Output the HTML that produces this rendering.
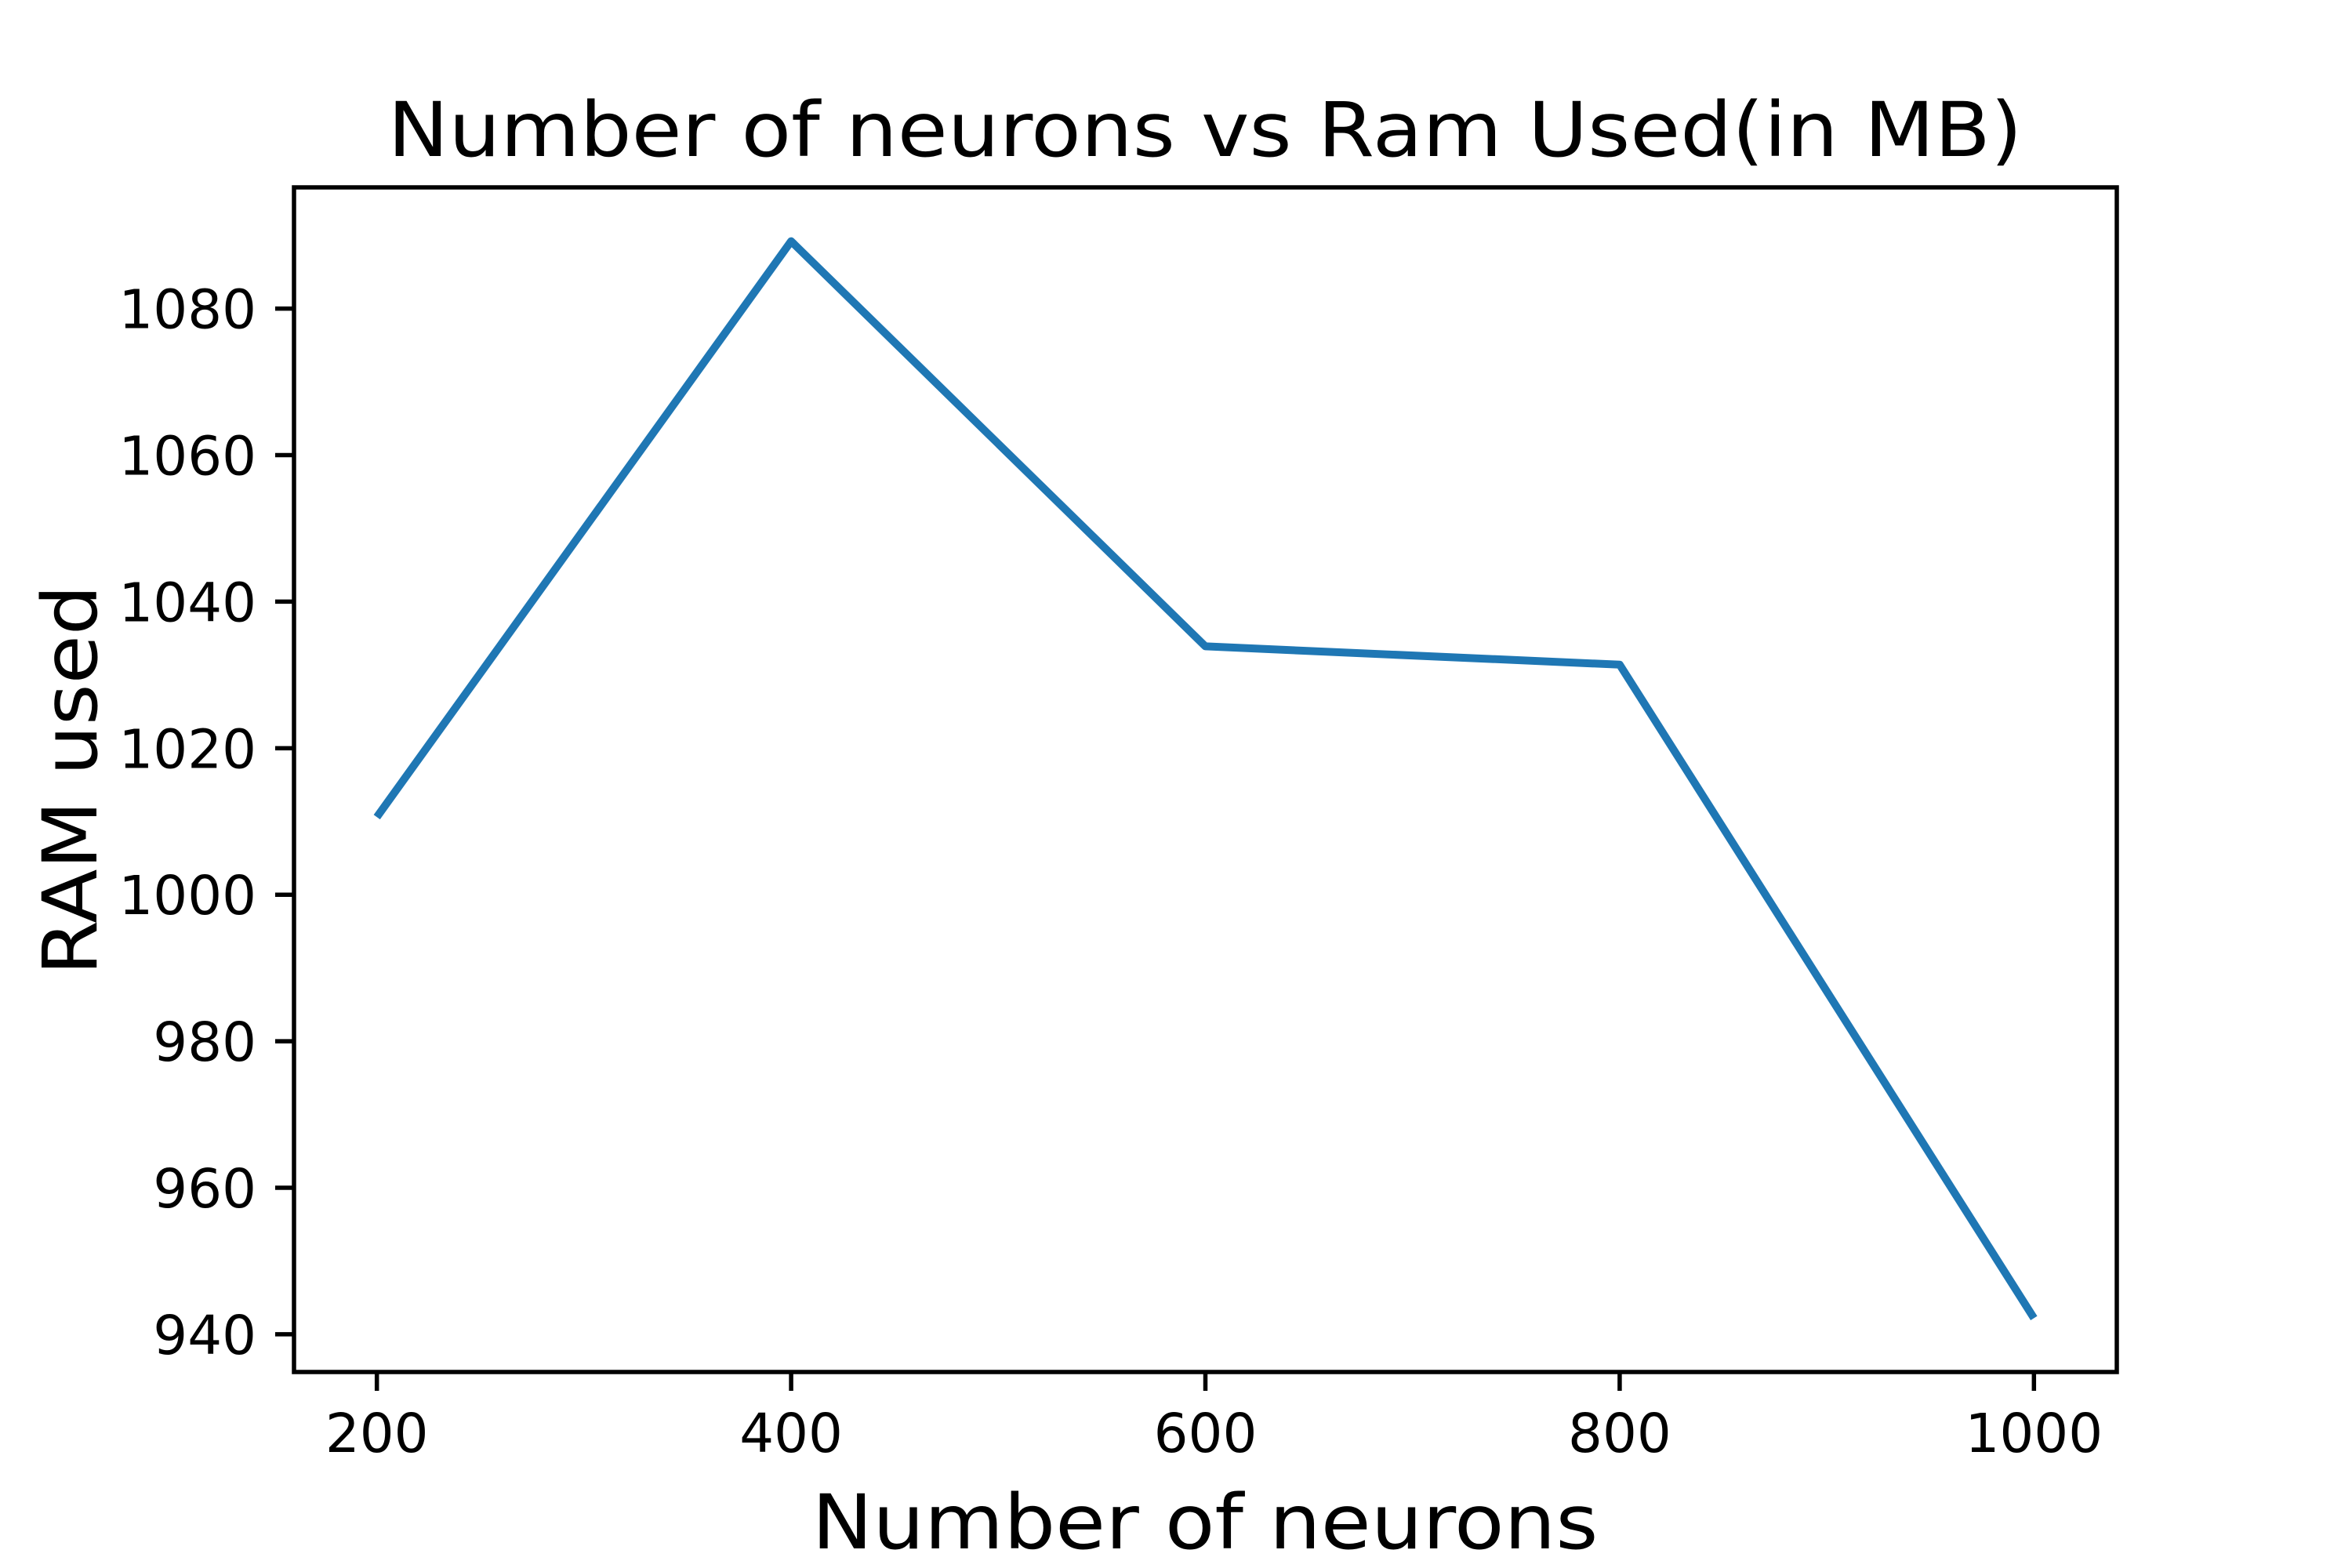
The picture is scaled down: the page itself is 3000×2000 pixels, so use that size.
<!DOCTYPE html>
<html><head><meta charset="utf-8"><style>
html,body{margin:0;padding:0;background:#fff;}
svg{display:block;font-family:"DejaVu Sans","Liberation Sans",sans-serif;}
</style></head><body>
<svg id="chart" width="3000" height="2000" viewBox="0 0 3000 2000">
<rect x="0" y="0" width="3000" height="2000" fill="#fff"/>
<text x="1537" y="199" font-size="96" text-anchor="middle" textLength="2085" lengthAdjust="spacingAndGlyphs">Number of neurons vs Ram Used(in MB)</text>
<text x="1537" y="1975" font-size="96" text-anchor="middle" textLength="1003" lengthAdjust="spacingAndGlyphs">Number of neurons</text>
<text x="0" y="0" font-size="96" text-anchor="middle" transform="translate(123,995) rotate(-90)" textLength="498" lengthAdjust="spacingAndGlyphs">RAM used</text>
<g id="ticks"></g>
<polyline id="series" fill="none" stroke="#1f77b4" stroke-width="10" stroke-linejoin="round" stroke-linecap="butt"/>
<rect x="375" y="239" width="2325" height="1511" fill="none" stroke="#000" stroke-width="5.5"/>
</svg>
<script>
const categories = [200, 400, 600, 800, 1000];
const ramValues = [1010.6, 1089.2, 1033.9, 1031.4, 942.2];
const xTickLabels = [200, 400, 600, 800, 1000];
const yTickLabels = [940, 960, 980, 1000, 1020, 1040, 1060, 1080];

const L = 375, R = 2700, T = 239, B = 1750;
const xMinD = Math.min(...categories), xMaxD = Math.max(...categories);
const xPad = (xMaxD - xMinD) * 0.05;
const yMinD = Math.min(...ramValues), yMaxD = Math.max(...ramValues);
const yPad = (yMaxD - yMinD) * 0.05;
function xScale(v){ return L + (v - (xMinD - xPad)) / ((xMaxD + xPad) - (xMinD - xPad)) * (R - L); }
function yScale(v){ return B - (v - (yMinD - yPad)) / ((yMaxD + yPad) - (yMinD - yPad)) * (B - T); }

const NS = "http://www.w3.org/2000/svg";
const g = document.getElementById('ticks');
xTickLabels.forEach(v => {
  const x = xScale(v);
  const ln = document.createElementNS(NS, 'line');
  ln.setAttribute('x1', x); ln.setAttribute('x2', x);
  ln.setAttribute('y1', B); ln.setAttribute('y2', B + 24);
  ln.setAttribute('stroke', '#000'); ln.setAttribute('stroke-width', '5.5');
  
  
  g.appendChild(ln);
  const t = document.createElementNS(NS, 'text');
  t.setAttribute('x', x); t.setAttribute('y', B + 102);
  t.setAttribute('font-size', '69'); t.setAttribute('text-anchor', 'middle');
  t.textContent = v;
  
  
  g.appendChild(t);
});
yTickLabels.forEach(v => {
  const y = yScale(v);
  const ln = document.createElementNS(NS, 'line');
  ln.setAttribute('x1', L - 24); ln.setAttribute('x2', L);
  ln.setAttribute('y1', y); ln.setAttribute('y2', y);
  ln.setAttribute('stroke', '#000'); ln.setAttribute('stroke-width', '5.5');
  
  
  g.appendChild(ln);
  const t = document.createElementNS(NS, 'text');
  t.setAttribute('x', L - 48); t.setAttribute('y', y + 25);
  t.setAttribute('font-size', '69'); t.setAttribute('text-anchor', 'end');
  t.textContent = v;
  
  
  g.appendChild(t);
});
const pts = categories.map((c, i) => xScale(c) + ',' + yScale(ramValues[i])).join(' ');
document.getElementById('series').setAttribute('points', pts);
</script>
</body></html>
